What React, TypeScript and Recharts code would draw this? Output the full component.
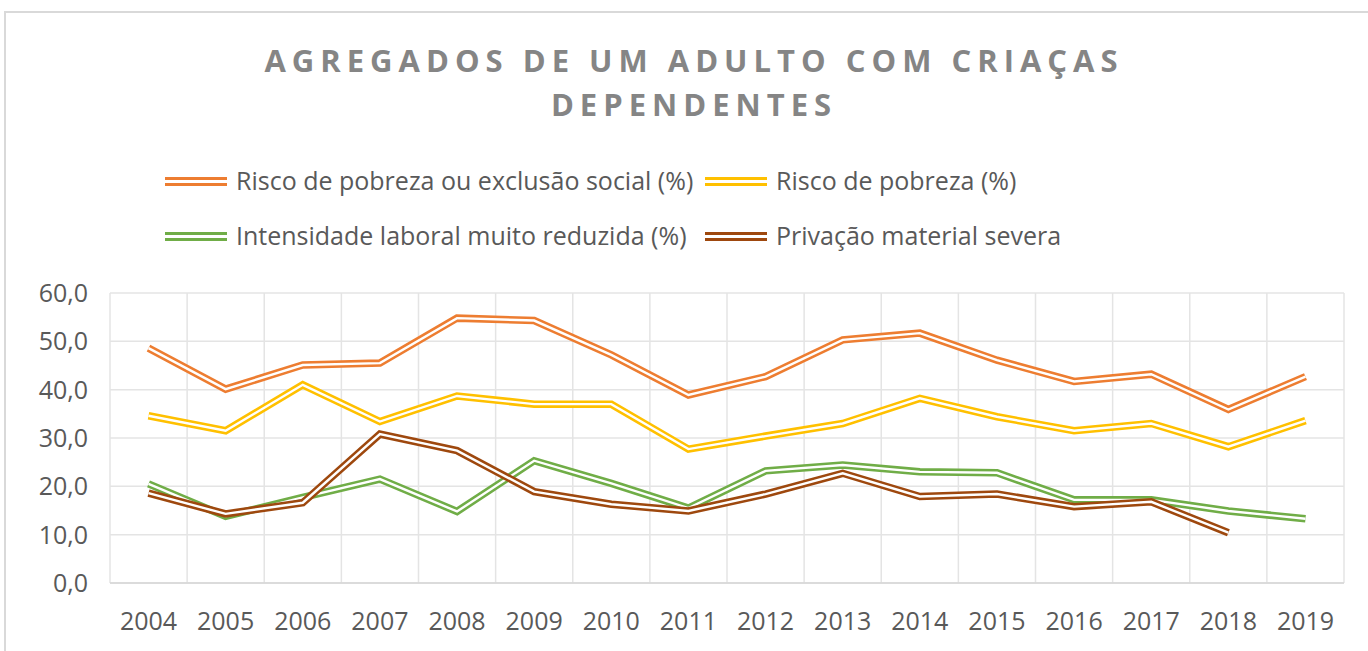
import { LineChart, Line, XAxis, YAxis, CartesianGrid } from 'recharts';

/* Data */

const YEARS = [
  '2004', '2005', '2006', '2007', '2008', '2009', '2010', '2011',
  '2012', '2013', '2014', '2015', '2016', '2017', '2018', '2019',
];

const RISCO_POBREZA_EXCLUSAO = [48.6, 40.1, 45.1, 45.5, 54.8, 54.3, 47.2, 38.9, 42.7, 50.3, 51.7, 46.1, 41.7, 43.2, 35.9, 42.7];
const RISCO_POBREZA = [34.6, 31.5, 41.0, 33.4, 38.7, 37.0, 37.0, 27.7, 30.4, 33.0, 38.2, 34.4, 31.5, 33.0, 28.2, 33.6];
const INTENSIDADE_LABORAL = [20.5, 13.8, 17.7, 21.5, 14.8, 25.3, 20.6, 15.5, 23.2, 24.4, 23.0, 22.8, 17.2, 17.2, 14.9, 13.3];
const PRIVACAO_MATERIAL = [18.6, 14.3, 16.6, 30.8, 27.4, 18.9, 16.3, 14.9, 18.4, 22.7, 17.9, 18.4, 15.8, 16.8, 10.4, null];

const Y_TICKS = [0, 10, 20, 30, 40, 50, 60];

const SERIES = [
  { key: 'exclusao', name: 'Risco de pobreza ou exclusão social (%)', color: '#ED7D31', values: RISCO_POBREZA_EXCLUSAO },
  { key: 'pobreza', name: 'Risco de pobreza (%)', color: '#FFC000', values: RISCO_POBREZA },
  { key: 'laboral', name: 'Intensidade laboral muito reduzida (%)', color: '#70AD47', values: INTENSIDADE_LABORAL },
  { key: 'privacao', name: 'Privação material severa', color: '#9E480E', values: PRIVACAO_MATERIAL },
];

const data = YEARS.map((year, i) => {
  const row: Record<string, string | number | null> = { year };
  SERIES.forEach((s) => {
    row[s.key] = s.values[i];
  });
  return row;
});

const FONT = '"Open Sans", sans-serif';
const TEXT = '#595959';
const GRID = '#e4e4e4';

function formatPt(v: number): string {
  return v.toFixed(1).replace('.', ',');
}

// Excel-style gridlines sit between categories, not on them
function betweenCategories({ offset }: any): number[] {
  const step = offset.width / YEARS.length;
  return Array.from({ length: YEARS.length + 1 }, (_, k) => offset.left + k * step);
}

function LegendItem({ color, label, left, top }: { color: string; label: string; left: number; top: number }) {
  return (
    <>
      <div
        style={{
          position: 'absolute',
          left,
          top: top + 11,
          width: 62,
          height: 3,
          borderTop: `3px solid ${color}`,
          borderBottom: `3px solid ${color}`,
        }}
      />
      <div
        style={{
          position: 'absolute',
          left: left + 71,
          top: top - 1,
          fontSize: 25,
          lineHeight: '30px',
          color: TEXT,
          whiteSpace: 'nowrap',
        }}
      >
        {label}
      </div>
    </>
  );
}

export default function App() {
  return (
    <div
      style={{
        position: 'absolute',
        left: 0,
        top: 0,
        width: 1368,
        height: 651,
        background: '#fff',
        fontFamily: FONT,
        overflow: 'hidden',
      }}
    >
      <div
        style={{
          position: 'absolute',
          left: 4,
          top: 11,
          width: 1380,
          height: 700,
          border: '2px solid #d9d9d9',
        }}
      />

      <div
        style={{
          position: 'absolute',
          left: 0,
          top: 38,
          width: 1388,
          textAlign: 'center',
          fontSize: 31,
          lineHeight: '44px',
          fontWeight: 700,
          letterSpacing: 6,
          color: '#858585',
        }}
      >
        AGREGADOS DE UM ADULTO COM CRIAÇAS
        <br />
        DEPENDENTES
      </div>

      <LegendItem color={SERIES[0].color} label={SERIES[0].name} left={165} top={166} />
      <LegendItem color={SERIES[1].color} label={SERIES[1].name} left={705} top={166} />
      <LegendItem color={SERIES[2].color} label={SERIES[2].name} left={165} top={221} />
      <LegendItem color={SERIES[3].color} label={SERIES[3].name} left={705} top={221} />

      <div style={{ position: 'absolute', left: 0, top: 0 }}>
        <LineChart
          width={1368}
          height={651}
          data={data}
          margin={{ top: 293, right: 24, bottom: 0, left: 0 }}
        >
          <CartesianGrid
            stroke={GRID}
            strokeWidth={1.5}
            verticalCoordinatesGenerator={betweenCategories}
          />
          <XAxis
            dataKey="year"
            height={68}
            padding={{ left: 38.5, right: 38.5 }}
            axisLine={{ stroke: '#d6d6d6', strokeWidth: 1.5 }}
            tickLine={false}
            tickSize={0}
            tickMargin={29}
            tick={{ fontSize: 25, fill: TEXT, fontFamily: FONT }}
            interval={0}
          />
          <YAxis
            width={110}
            domain={[0, 60]}
            ticks={Y_TICKS}
            tickFormatter={formatPt}
            axisLine={false}
            tickLine={false}
            tickSize={0}
            tickMargin={22}
            tick={{ fontSize: 25, fill: TEXT, fontFamily: FONT }}
          />
          {SERIES.flatMap((s) => [
            <Line
              key={`${s.key}-outer`}
              dataKey={s.key}
              name={s.name}
              stroke={s.color}
              strokeWidth={7.5}
              dot={false}
              activeDot={false}
              type="linear"
              isAnimationActive={false}
            />,
            <Line
              key={`${s.key}-inner`}
              dataKey={s.key}
              legendType="none"
              stroke="#ffffff"
              strokeWidth={2.4}
              dot={false}
              activeDot={false}
              type="linear"
              isAnimationActive={false}
            />,
          ])}
        </LineChart>
      </div>
    </div>
  );
}
